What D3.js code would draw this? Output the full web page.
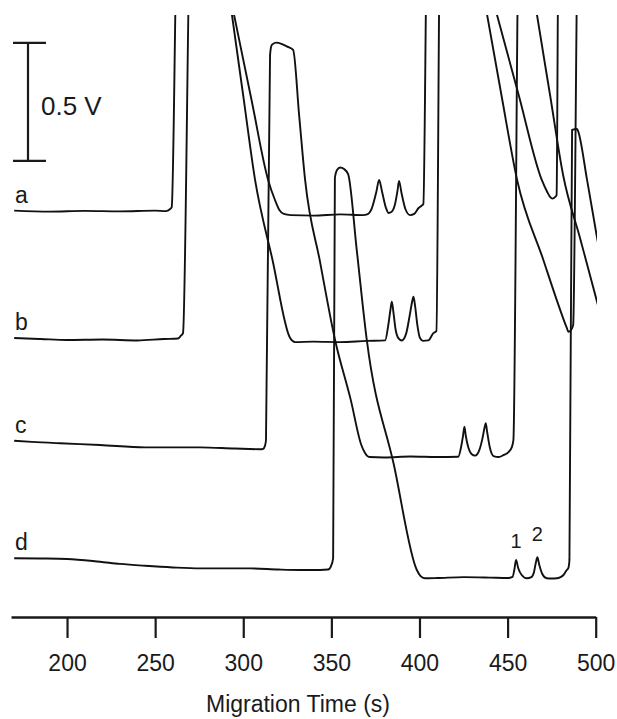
<!DOCTYPE html>
<html>
<head>
<meta charset="utf-8">
<script src="https://cdn.jsdelivr.net/npm/d3@7"></script>
<style>
  body { margin: 0; background: #fff; }
  svg { font-family: "Liberation Sans", Arial, sans-serif; }
  .trace { fill: none; stroke: #111; stroke-width: 1.9; stroke-linejoin: round; }
</style>
</head>
<body>
<svg id="chart" width="617" height="719"></svg>
<script>
// electropherograms, [time s, signal V] (stacked as drawn; 2.9 = off scale)
const traceA = [[170,1.722],[190,1.718],[210,1.721],[230,1.719],[250,1.722],[256,1.720],[258.5,1.729],[259.4,1.737],[262.6,2.9],
  [285.2,2.9],[294.8,2.551],[304.7,2.191],[314.1,1.852],[318,1.767],[320.5,1.725],[323,1.708],[327,1.703],[340,1.701],[355,1.706],[368,1.703],[370.3,1.706],
  [373,1.733],[375.5,1.801],[377.1,1.852],[378.8,1.801],[381,1.733],[382.5,1.712],[384,1.716],
  [386,1.746],[387.5,1.805],[388.4,1.848],[389.8,1.797],[392,1.729],[394.7,1.703],[397,1.708],[399.5,1.733],[401,1.742],[402.2,1.750],[404.4,2.9],
  [431.6,2.9],[444,2.551],[456.3,2.212],[469.4,1.852],[472.5,1.801],[474.1,1.780],[475.5,1.773],[477,1.780],[477.8,1.788],[478.9,2.9],[502,2.9]]

const traceB = [[170,1.182],[185,1.178],[200,1.174],[220,1.176],[240,1.172],[255,1.178],[263,1.180],[264.5,1.191],[265.8,1.203],[270.1,2.9],
  [287.2,2.9],[293.6,2.551],[300.1,2.203],[306.7,1.852],[316.6,1.513],[326.6,1.182],[329.4,1.165],[340,1.167],[355,1.165],[370,1.170],[380.5,1.172],
  [382.3,1.237],[383.5,1.301],[384.3,1.336],[385.2,1.292],[386.5,1.216],[388,1.182],[390,1.172],
  [392.5,1.203],[394.5,1.280],[395.8,1.335],[396.6,1.357],[397.5,1.318],[398.8,1.237],[400.3,1.182],[402,1.170],[405,1.172],[407.9,1.203],[409.6,1.212],[411.7,2.9],
  [429.9,2.9],[438.4,2.551],[446.5,2.212],[455.4,1.852],[470.3,1.513],[477.9,1.343],[483.6,1.225],[484.5,1.209],[486,1.216],[487.2,1.237],[490,2.9],[502,2.9]]

const traceC = [[170,0.747],[180,0.742],[196,0.736],[218.7,0.729],[244.3,0.719],[275.5,0.719],[295,0.714],[309.5,0.711],[311.2,0.712],[312.3,0.725],[312.9,0.750],
  [315.2,2.381],[316.2,2.424],[318.6,2.434],[322,2.428],[325,2.417],[328.3,2.403],
  [331.7,2.127],[335.1,1.852],[343.6,1.504],[352.1,1.174],[361,0.920],[367,0.729],[369.1,0.695],[371.5,0.678],[380,0.676],[395,0.680],[410,0.678],[422,0.679],
  [423.5,0.716],[424.7,0.767],[425.5,0.806],[426.3,0.767],[427.8,0.716],[429.5,0.691],[431.6,0.684],
  [434,0.708],[435.8,0.759],[437,0.805],[437.6,0.821],[438.4,0.784],[440,0.716],[442,0.682],[445,0.678],[447.6,0.686],[450.5,0.699],[452.4,0.720],[453.3,0.750],[456.4,2.9],
  [459.4,2.9],[466.7,2.551],[474.1,2.212],[481.5,1.873],[491.4,1.598],[500.8,1.335],[502,1.301]]

const traceD = [[170,0.249],[185,0.248],[200,0.246],[218.7,0.234],[230,0.225],[244.3,0.217],[260,0.210],[275.5,0.206],[303.9,0.206],[320,0.201],[332.2,0.199],[343.6,0.199],
  [348.1,0.201],[349.8,0.216],[351,0.250],[352,1.860],[353.2,1.894],[355,1.905],[357.2,1.898],[359.5,1.877],
  [364.4,1.555],[370.1,1.174],[385.5,0.644],[398.5,0.199],[400.5,0.174],[403,0.164],[410,0.165],[425,0.169],[440,0.167],[450,0.165],[452.8,0.170],
  [453.8,0.199],[454.8,0.242],[456,0.208],[458,0.178],[460.9,0.164],[463.5,0.169],
  [465,0.191],[466,0.229],[466.9,0.253],[468,0.220],[469.7,0.182],[472.2,0.164],[475,0.163],[477.9,0.164],[480,0.169],[481.7,0.178],[483.6,0.199],[484.5,0.208],[485.1,0.242],
  [486.6,2.064],[489.4,2.068],[490,2.059],[495.1,1.852],[500.8,1.606],[502,1.555]]

const traces = [traceA, traceB, traceC, traceD]
const traceNames = ["a", "b", "c", "d"]
const tickValues = [200, 250, 300, 350, 400, 450, 500]
const peakLabels = [["1", 454.8, 0.292], ["2", 466.9, 0.322]]
const barVolts = 0.5
const barBase = 1.933

let svg = d3.select("#chart")

let x = d3.scaleLinear().domain([168.2, 500]).range([11, 595.7])
let y = d3.scaleLinear().domain([0, 2.551]).range([617, 15])

svg.append("clipPath").attr("id", "plotClip")
  .append("rect")
  .attr("x", 0).attr("y", y(2.551))
  .attr("width", x(500.8)).attr("height", y(0) - y(2.551))

let line = d3.line()
  .x(d => x(d[0]))
  .y(d => y(d[1]))
  .curve(d3.curveMonotoneX)

svg.append("g")
  .attr("clip-path", "url(#plotClip)")
  .selectAll("path")
  .data(traces)
  .enter()
  .append("path")
  .attr("class", "trace")
  .attr("d", line)

// trace letters
svg.selectAll(".tlabel")
  .data(traces)
  .enter()
  .append("text")
  .attr("class", "tlabel")
  .attr("x", 15)
  .attr("y", d => y(d[0][1]) - 8)
  .attr("font-size", 23)
  .attr("fill", "#1a1a1a")
  .text((d, i) => traceNames[i])

// peak numbers
svg.selectAll(".plabel")
  .data(peakLabels)
  .enter()
  .append("text")
  .attr("class", "plabel")
  .attr("x", d => x(d[1]))
  .attr("y", d => y(d[2]))
  .attr("text-anchor", "middle")
  .attr("font-size", 20)
  .attr("fill", "#1a1a1a")
  .text(d => d[0])

// scale bar
let yb0 = y(barBase), yb1 = y(barBase + barVolts)
let bar = svg.append("g").attr("stroke", "#1a1a1a").attr("stroke-width", 2.2)
bar.append("line").attr("x1", 28).attr("x2", 28).attr("y1", yb1).attr("y2", yb0)
bar.append("line").attr("x1", 13).attr("x2", 46).attr("y1", yb1).attr("y2", yb1)
bar.append("line").attr("x1", 13).attr("x2", 46).attr("y1", yb0).attr("y2", yb0)
svg.append("text")
  .attr("x", 41).attr("y", (yb0 + yb1) / 2 + 13)
  .attr("font-size", 26)
  .attr("fill", "#1a1a1a")
  .text(barVolts + " V")

// x axis
let axis = d3.axisBottom(x)
  .tickValues(tickValues)
  .tickSize(21)
  .tickSizeOuter(0)
  .tickPadding(17)

let gx = svg.append("g")
  .attr("transform", `translate(0,${y(0)})`)
  .call(axis)
  .attr("font-size", 23)
  .attr("font-family", "'Liberation Sans', Arial, sans-serif")
gx.select(".domain").attr("stroke", "#1a1a1a").attr("stroke-width", 2.6)
gx.selectAll(".tick line").attr("stroke", "#1a1a1a").attr("stroke-width", 2.2)
gx.selectAll(".tick text").attr("fill", "#1a1a1a")

svg.append("text")
  .attr("x", 298).attr("y", 712)
  .attr("text-anchor", "middle")
  .attr("font-size", 23)
  .attr("fill", "#1a1a1a")
  .text("Migration Time (s)")
</script>
</body>
</html>
